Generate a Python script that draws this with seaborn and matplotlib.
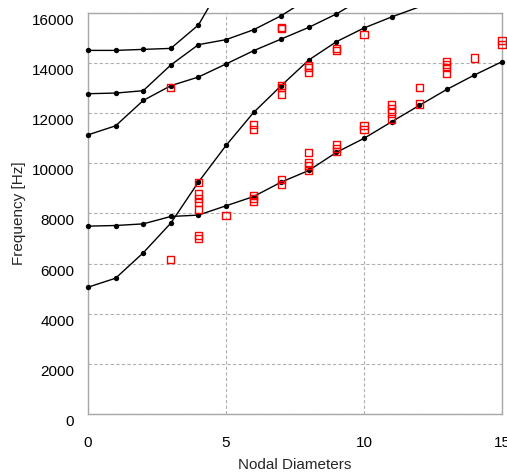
import numpy as np
import pandas as pd
import matplotlib
matplotlib.use('Agg')
import matplotlib.pyplot as plt
import matplotlib.transforms as mtransforms
from matplotlib.patches import Rectangle
import seaborn as sns

# computed modes (black lines), one value per nodal diameter starting at 0
mode_1 = [7490, 7515, 7580, 7875, 7930, 8300, 8670, 9245, 9710, 10430, 10990,
          11650, 12300, 12940, 13515, 14045]
mode_2 = [5055, 5415, 6425, 7610, 9245, 10706, 12023, 13090, 14114, 14844, 15390,
          15830, 16230]
mode_3 = [11130, 11490, 12500, 13090, 13435, 13955, 14485, 14950, 15415, 15950, 16600]
mode_4 = [12770, 12795, 12890, 13915, 14725, 14925, 15320, 15880, 16570]
mode_5 = [14497, 14497, 14537, 14577, 15510, 17400]

# measured frequencies (red squares)
meas_nd = [3, 3,
           4, 4, 4, 4, 4, 4, 4,
           5,
           6, 6, 6, 6, 6,
           7, 7, 7, 7, 7, 7, 7,
           8, 8, 8, 8, 8, 8, 8,
           9, 9, 9, 9, 9,
           10, 10, 10,
           11, 11, 11, 11,
           12, 12,
           13, 13, 13, 13,
           14,
           15, 15]
meas_freq = [6145, 13035,
             6990, 7130, 8150, 8450, 8610, 8770, 9245,
             7900,
             8470, 8600, 8700, 11360, 11560,
             9140, 9340, 12730, 13000, 13090, 15360, 15420,
             9710, 9910, 10040, 10440, 13600, 13800, 13880,
             10470, 10600, 10735, 14510, 14570,
             11330, 11505, 15120,
             11760, 12000, 12160, 12330,
             12360, 13035,
             13570, 13800, 13930, 14060,
             14195,
             14750, 14895]

x_ticks = [0, 5, 10, 15]
y_ticks = list(range(0, 16001, 2000))

rows = []
for name, vals in [('m1', mode_1), ('m2', mode_2), ('m3', mode_3),
                   ('m4', mode_4), ('m5', mode_5)]:
    for nd, f in enumerate(vals):
        rows.append({'mode': name, 'nd': nd, 'freq': f})
modes = pd.DataFrame(rows)
meas = pd.DataFrame({'nd': meas_nd, 'freq': meas_freq})

sns.set_theme(style='white')
plt.rcParams['font.family'] = ['Liberation Sans', 'DejaVu Sans']

fig = plt.figure(figsize=(5.07, 4.72), dpi=100)
ax = fig.add_axes([0.1736, 0.1229, 0.8165, 0.8502])

# lines, allowed to run a few pixels above the top of the box like the original
sns.lineplot(data=modes, x='nd', y='freq', hue='mode', palette=['black'] * 5,
             estimator=None, legend=False, lw=1.0, ax=ax, zorder=3)
clip = Rectangle((-0.02, -0.02), 1.04, 1.02 + 4.5 / 401, transform=ax.transAxes)
for ln in ax.lines:
    ln.set_clip_path(clip)

# dots only where inside the plot range
sns.scatterplot(data=modes[modes['freq'] <= 16000], x='nd', y='freq', color='black',
                s=15, linewidth=0, clip_on=False, zorder=4, ax=ax)

sns.scatterplot(data=meas, x='nd', y='freq', marker='s', s=26, facecolors='none',
                edgecolor='red', linewidth=1.0, clip_on=False, zorder=5, ax=ax)

ax.set_xlim(0, 15)
ax.set_ylim(0, 16000)
ax.set_xticks(x_ticks)
ax.set_yticks(y_ticks)
ax.set_xticklabels([str(t) for t in x_ticks])
ax.set_yticklabels([str(t) for t in y_ticks])
ax.tick_params(axis='both', length=0, labelsize=11, colors='black')
ax.tick_params(axis='x', pad=15.5)
ax.tick_params(axis='y', pad=10)
ax.grid(True, linestyle=(0, (3, 2)), color='#b0b0b0', lw=0.8)
for s in ax.spines.values():
    s.set_color('#a8a8a8')
    s.set_linewidth(1.0)

# y tick labels sit a little below their gridlines in the original
shift = mtransforms.ScaledTranslation(0, -6.5 / 100, fig.dpi_scale_trans)
for lbl in ax.get_yticklabels():
    lbl.set_transform(lbl.get_transform() + shift)

ax.set_xlabel('Nodal Diameters', fontsize=11)
ax.set_ylabel('Frequency [Hz]', fontsize=11)
ax.xaxis.set_label_coords(0.5, -0.109)
ax.yaxis.set_label_coords(-0.149, 0.5)

fig.savefig('out.png', dpi=100)
